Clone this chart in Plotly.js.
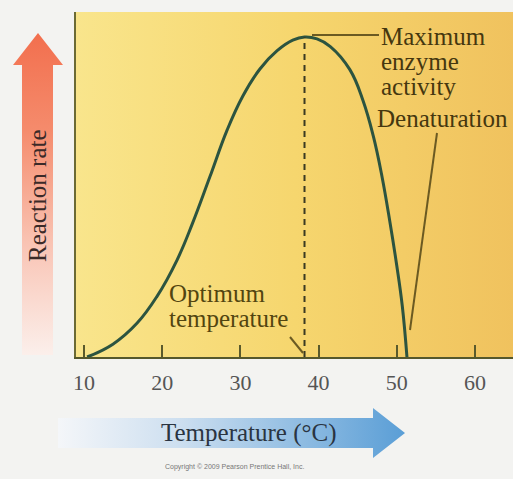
<!DOCTYPE html>
<html>
<head>
<meta charset="utf-8">
<script src="https://cdn.plot.ly/plotly-3.0.1.min.js"></script>
<style>html,body{margin:0;padding:0;background:#f3f3f1;}#chart{width:513px;height:479px;}</style>
</head>
<body>
<div id="chart"></div>
<script>
// ---- data ----
const temperature = [10.4, 13.7, 16.8, 19.3, 21.9, 23.9, 26.1, 28.3, 30.3, 32.5, 34.7, 36.7, 38.2, 39.8, 41.5, 44.0, 45.7, 47.0, 48.1, 49.1, 50.0, 50.7, 51.3];
const reactionRate = [0, 4.0, 10.6, 18.8, 30.3, 41.9, 56.3, 70.9, 81.5, 90.0, 95.7, 99.0, 100, 99.4, 97.0, 89.8, 80.0, 69.0, 56.5, 42.5, 28.5, 16.0, 0];
const tickValues = [10, 20, 30, 40, 50, 60];
const tickLabels = ["10", "20", "30", "40", "50", "60"];

// peak (optimum temperature)
let peakIdx = 0;
reactionRate.forEach((v, i) => { if (v > reactionRate[peakIdx]) peakIdx = i; });
const optimumT = temperature[peakIdx];
const maxRate = reactionRate[peakIdx];

const W = 513, H = 479;
const plotL = 76, plotT = 12, plotB = 357;
const serif = "Liberation Serif, Times New Roman, serif";

const traces = [
  // background gradient of plotting area (decoration, pixel axes)
  { x: [plotL, W, W, plotL, plotL], y: [plotT, plotT, plotB, plotB, plotT], xaxis: 'x', yaxis: 'y',
    mode: 'lines', line: { width: 0 }, fill: 'toself', hoverinfo: 'skip', showlegend: false,
    fillgradient: { type: 'horizontal', start: plotL, stop: W,
      colorscale: [[0, '#f9e58c'], [0.5, '#f6d66e'], [1, '#f0c25e']] } },
  // vertical (reaction rate) arrow
  { x: [22, 22, 13, 38, 63, 53, 53, 22], y: [355, 65, 65, 33, 65, 65, 355, 355], xaxis: 'x', yaxis: 'y',
    mode: 'lines', line: { width: 0 }, fill: 'toself', hoverinfo: 'skip', showlegend: false,
    fillgradient: { type: 'vertical', start: 33, stop: 355,
      colorscale: [[0, '#f26f4e'], [0.3, '#f58b6c'], [0.65, '#f9c3b3'], [1, '#fbefeb']] } },
  // horizontal (temperature) arrow
  { x: [58, 373, 373, 405, 373, 373, 58, 58], y: [418, 418, 408, 433, 458, 448, 448, 418], xaxis: 'x', yaxis: 'y',
    mode: 'lines', line: { width: 0 }, fill: 'toself', hoverinfo: 'skip', showlegend: false,
    fillgradient: { type: 'horizontal', start: 58, stop: 405,
      colorscale: [[0, '#f4f6f9'], [0.35, '#cddff0'], [1, '#5a9ed6']] } },
  // enzyme activity curve
  { x: temperature, y: reactionRate, xaxis: 'x2', yaxis: 'y2', mode: 'lines',
    line: { color: '#2c5440', width: 3, shape: 'spline', smoothing: 1.2 }, hoverinfo: 'skip', showlegend: false }
];

const textColor = '#45370f';
const ann = (text, x, y, opts) => Object.assign({ text, x, y, xref: 'x', yref: 'y', showarrow: false,
  xanchor: 'left', yanchor: 'middle', font: { family: serif, size: 25, color: textColor } }, opts || {});

const annotations = [
  ann('Maximum', 379, 36),
  ann('enzyme', 379, 61),
  ann('activity', 379, 86),
  ann('Denaturation', 375, 118),
  ann('Optimum', 167, 293, { font: { family: serif, size: 25, color: '#524510' } }),
  ann('temperature', 167, 318, { font: { family: serif, size: 25, color: '#524510' } }),
  ann('Reaction rate', 37, 196, { xanchor: 'center', textangle: -90, font: { family: serif, size: 25, color: '#3b2a28' } }),
  ann('Temperature (°C)', 249, 433, { xanchor: 'center', font: { family: serif, size: 25, color: '#2a3441' } }),
  ann('Copyright © 2009 Pearson Prentice Hall, Inc.', 234, 467, { xanchor: 'center', font: { family: 'Liberation Sans, Arial, sans-serif', size: 7, color: '#777' } })
];

const leader = '#6b5a22';
const shapes = [
  // optimum dashed line
  { type: 'line', xref: 'x2', yref: 'y2', x0: optimumT, x1: optimumT, y0: 0, y1: maxRate,
    line: { color: '#3a3a22', width: 2, dash: '6px,5px' } },
  // maximum leader
  { type: 'line', xref: 'x', yref: 'y', x0: 312, x1: 379, y0: 35, y1: 35, line: { color: leader, width: 2 } },
  // denaturation leader
  { type: 'line', xref: 'x', yref: 'y', x0: 437, x1: 410, y0: 133, y1: 330, line: { color: leader, width: 2 } },
  // optimum leader
  { type: 'line', xref: 'x', yref: 'y', x0: 290, x1: 303, y0: 337, y1: 353, line: { color: leader, width: 2 } }
];

const layout = {
  width: W, height: H, autosize: false,
  margin: { l: 0, r: 0, t: 0, b: 0, pad: 0 },
  paper_bgcolor: '#f3f3f1', plot_bgcolor: 'rgba(0,0,0,0)',
  showlegend: false,
  xaxis: { domain: [0, 1], range: [0, W], visible: false, fixedrange: true },
  yaxis: { domain: [0, 1], range: [H, 0], visible: false, fixedrange: true },
  xaxis2: { domain: [plotL / W, 1], range: [8.98, 64.86], anchor: 'y2',
    showline: true, linecolor: '#55582c', linewidth: 2, mirror: false,
    ticks: 'inside', ticklen: 12, tickwidth: 2, tickcolor: '#5a5a2c',
    tickvals: tickValues, ticktext: tickLabels, ticklabelstandoff: 5,
    tickfont: { family: serif, size: 22, color: '#555' },
    showgrid: false, zeroline: false, fixedrange: true },
  yaxis2: { domain: [(H - plotB) / H, (H - plotT) / H], range: [0, 107.8], anchor: 'x2',
    showline: true, linecolor: '#6b6a35', linewidth: 2, ticks: '', showticklabels: false,
    showgrid: false, zeroline: false, fixedrange: true },
  annotations, shapes
};

Plotly.newPlot('chart', traces, layout, { displayModeBar: false, staticPlot: true });
</script>
</body>
</html>
